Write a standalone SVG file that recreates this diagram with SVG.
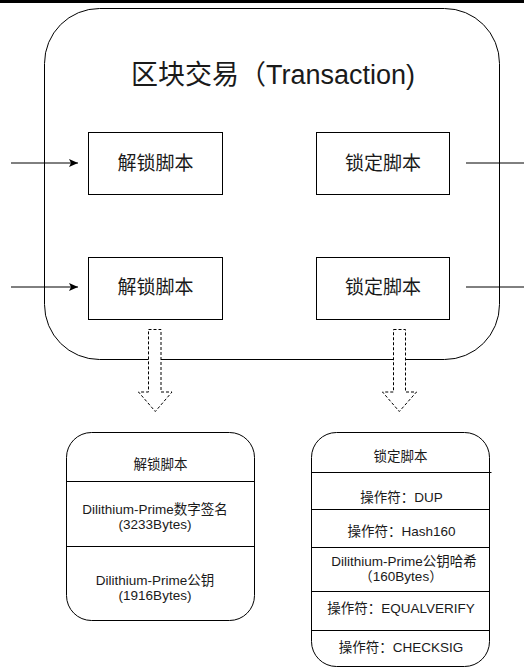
<svg xmlns="http://www.w3.org/2000/svg" width="524" height="669" viewBox="0 0 524 669">
<style>
text{font-family:"Liberation Sans","Noto Sans CJK SC",sans-serif;fill:#1a1a1a;text-anchor:middle}
.box{fill:#fff;stroke:#000;stroke-width:1}
.t19{font-size:19px}
.t13{font-size:13.5px}
.line{stroke:#000;stroke-width:1;fill:none}
.blk{fill:#fff;stroke:#000;stroke-width:1;stroke-dasharray:3 2}
</style>
<defs>
<marker id="ah" markerWidth="10" markerHeight="8" refX="9" refY="4" orient="auto" markerUnits="userSpaceOnUse">
<path d="M0,0 L9,4 L0,8 L2,4 Z" fill="#000"/>
</marker>
</defs>
<rect x="0" y="0" width="524" height="3" fill="#000"/>
<g id="transaction">
<rect class="box" x="44.5" y="8.5" width="455" height="351" rx="55" ry="55"/>
<text x="131" y="84" style="font-size:27px;text-anchor:start">区块交易（Transaction)</text>
</g>
<g id="unlock1">
<rect class="box" x="88.5" y="132.5" width="134" height="62"/>
<text class="t19" x="155.5" y="170">解锁脚本</text>
</g>
<g id="lock1">
<rect class="box" x="316.5" y="132.5" width="133" height="62"/>
<text class="t19" x="383" y="170">锁定脚本</text>
</g>
<g id="unlock2">
<rect class="box" x="88.5" y="257.5" width="134" height="62"/>
<text class="t19" x="155.5" y="294">解锁脚本</text>
</g>
<g id="lock2">
<rect class="box" x="316.5" y="257.5" width="133" height="62"/>
<text class="t19" x="383" y="294">锁定脚本</text>
</g>
<g id="connectors">
<line class="line" x1="11" y1="163" x2="78" y2="163" marker-end="url(#ah)"/>
<line class="line" x1="11" y1="287" x2="78" y2="287" marker-end="url(#ah)"/>
<line class="line" x1="466" y1="163" x2="524" y2="163"/>
<line class="line" x1="466" y1="287" x2="524" y2="287"/>
<path class="blk" d="M148.5,329.5 H161 V392 H172 L155.3,411.5 L138.5,392 H148.5 Z"/>
<path class="blk" d="M393.5,329.5 H405.5 V392 H416.5 L399.3,411.5 L382.5,392 H393.5 Z"/>
</g>
<g id="unlock-detail">
<rect class="box" x="66.5" y="432.5" width="188" height="188" rx="25" ry="25"/>
<line class="line" x1="66.5" y1="481.5" x2="254.5" y2="481.5"/>
<line class="line" x1="66.5" y1="546.5" x2="254.5" y2="546.5"/>
<text class="t13" x="160.5" y="469">解锁脚本</text>
<text class="t13" x="155" y="513.5">Dilithium-Prime数字签名</text>
<text class="t13" x="155" y="528.5">(3233Bytes)</text>
<text class="t13" x="155" y="585">Dilithium-Prime公钥</text>
<text class="t13" x="155" y="600">(1916Bytes)</text>
</g>
<g id="lock-detail">
<rect class="box" x="311.5" y="432.5" width="178" height="234" rx="25" ry="25"/>
<line class="line" x1="311.5" y1="472.5" x2="491.5" y2="472.5"/>
<line class="line" x1="311.5" y1="509.5" x2="489.5" y2="509.5"/>
<line class="line" x1="311.5" y1="547.5" x2="489.5" y2="547.5"/>
<line class="line" x1="311.5" y1="591.5" x2="489.5" y2="591.5"/>
<line class="line" x1="311.5" y1="630.5" x2="489.5" y2="630.5"/>
<text class="t13" x="400.5" y="461">锁定脚本</text>
<text class="t13" x="401.5" y="501.5">操作符：DUP</text>
<text class="t13" x="401.5" y="536">操作符：Hash160</text>
<text class="t13" x="404" y="566">Dilithium-Prime公钥哈希</text>
<text class="t13" x="401" y="581">（160Bytes）</text>
<text class="t13" x="401" y="612.5">操作符：EQUALVERIFY</text>
<text class="t13" x="401" y="652">操作符：CHECKSIG</text>
</g>
</svg>
